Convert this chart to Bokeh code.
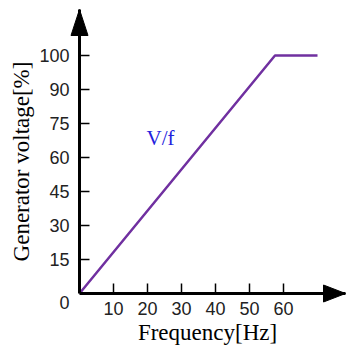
import numpy as np
from bokeh.plotting import figure
from bokeh.models import FixedTicker, Range1d, Label
from bokeh.embed import file_html
from bokeh.resources import INLINE

# data
freq = [0, 57.5, 70]
volt = [0, 100, 100]
y_tick_values = [0, 15, 30, 45, 60, 75, 90, 100]
x_tick_values = [10, 20, 30, 40, 50, 60]
x_title = "Frequency[Hz]"
y_title = "Generator voltage[%]"

y_pos = list(range(len(y_tick_values)))
volt_pos = np.interp(volt, y_tick_values, y_pos)

# layout (pixels)
px_per_hz = 3.4
px_per_idx = 34.0
W, H = 347, 347
ox, oy = 79, 293          # origin in page pixels
x_start = -ox / px_per_hz
x_end = (W - ox) / px_per_hz
y_start = -(H - oy) / px_per_idx
y_end = oy / px_per_idx

p = figure(width=W, height=H, output_backend="svg", toolbar_location=None,
           x_range=Range1d(x_start, x_end), y_range=Range1d(y_start, y_end),
           min_border_left=0, min_border_right=0,
           min_border_top=0, min_border_bottom=0)
p.outline_line_color = None
p.grid.visible = False
p.background_fill_color = "white"

y_top = (oy - 9) / px_per_idx       # arrow tip of y axis
x_tip = (345 - ox) / px_per_hz      # arrow tip of x axis

for ax in (p.xaxis[0], p.yaxis[0]):
    ax.fixed_location = 0
    ax.axis_line_width = 3
    ax.axis_line_color = "black"
    ax.major_tick_in = 10
    ax.major_tick_out = 0
    ax.major_tick_line_width = 1.5
    ax.major_tick_line_color = "black"
    ax.minor_tick_line_color = None
    ax.major_label_text_font = "Liberation Sans"
    ax.major_label_text_font_size = "18px"
    ax.major_label_text_color = "#222222"

p.xaxis.ticker = FixedTicker(ticks=x_tick_values)
p.xaxis.bounds = (0, x_tip)
p.xaxis.major_label_standoff = 8

p.yaxis.ticker = FixedTicker(ticks=y_pos[1:])
p.yaxis.bounds = (0, y_top)
p.yaxis.major_label_overrides = {i: str(v) for i, v in zip(y_pos, y_tick_values)}
p.yaxis.major_label_standoff = 10

# zero label at origin
p.add_layout(Label(x=0, y=0, text=str(y_tick_values[0]), x_offset=-10, y_offset=-9,
                   text_align="right", text_baseline="middle",
                   text_font="Liberation Sans", text_font_size="18px",
                   text_color="#222222"))

# axis titles
p.add_layout(Label(x=(207 - ox) / px_per_hz, y=(oy - 332) / px_per_idx, text=x_title,
                   text_align="center", text_baseline="middle",
                   text_font="Liberation Serif", text_font_size="23px",
                   text_color="black"))
p.add_layout(Label(x=(21 - ox) / px_per_hz, y=(oy - 161) / px_per_idx, text=y_title,
                   angle=np.pi / 2, text_align="center", text_baseline="middle",
                   text_font="Liberation Serif", text_font_size="23px",
                   text_color="black"))

# V/f curve
p.line(freq, volt_pos, line_color="#7030a0", line_width=2.5)
p.add_layout(Label(x=(146 - ox) / px_per_hz, y=(oy - 137) / px_per_idx, text="V/f",
                   text_align="left", text_baseline="middle",
                   text_font="Liberation Serif", text_font_size="21px",
                   text_color="#2222dd"))

# arrowheads
ya_len = 26 / px_per_idx
ya_hw = 8.5 / px_per_hz
p.patch([0, -ya_hw, ya_hw], [y_top, y_top - ya_len, y_top - ya_len],
        fill_color="black", line_color="black")
xa_len = 22 / px_per_hz
xa_hw = 8.5 / px_per_idx
p.patch([x_tip, x_tip - xa_len, x_tip - xa_len], [0, xa_hw, -xa_hw],
        fill_color="black", line_color="black")

open("out.html", "w").write(file_html(p, INLINE))
